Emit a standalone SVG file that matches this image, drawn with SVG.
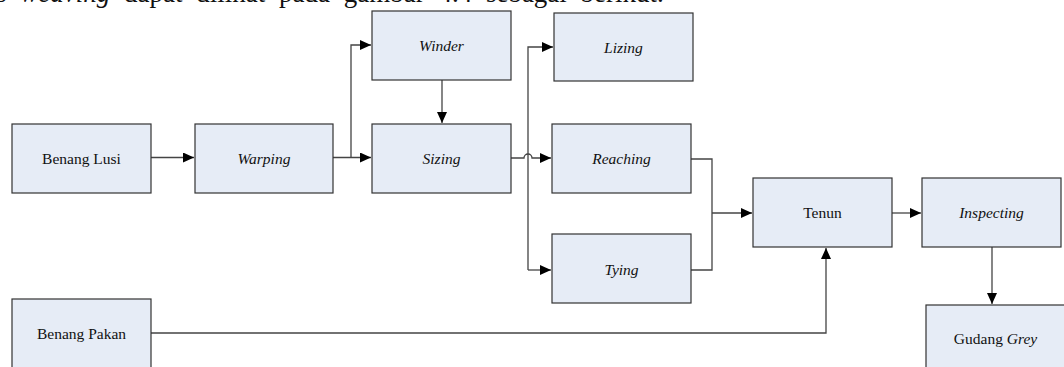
<svg xmlns="http://www.w3.org/2000/svg" width="1064" height="367" viewBox="0 0 1064 367">
<style>
.box{fill:#e6ecf6;stroke:#333;stroke-width:1.2}
.t{font-family:"Liberation Serif","Times New Roman",serif;font-size:15.5px;fill:#111;text-anchor:middle}
.i{font-style:italic}
.c{fill:none;stroke:#444;stroke-width:1.3}
.hdr{font-family:"Liberation Serif","Times New Roman",serif;font-size:27px;fill:#111;word-spacing:7px}
</style>
<defs>
<marker id="a" markerUnits="userSpaceOnUse" markerWidth="12" markerHeight="10" refX="11" refY="5" orient="auto">
<path d="M0,0 L11,5 L0,10 Z" fill="#000"/>
</marker>
</defs>
<text class="hdr" x="-4" y="1.5">s <tspan font-style="italic">weaving</tspan> dapat dilihat pada gambar 4.4 sebagai berikut.</text>
<g id="connectors">
<path class="c" d="M151,157.5 H194" marker-end="url(#a)"/>
<path class="c" d="M333,157.5 H371" marker-end="url(#a)"/>
<path class="c" d="M351,157.5 V45 H371" marker-end="url(#a)"/>
<path class="c" d="M442,80 V123" marker-end="url(#a)"/>
<path class="c" d="M511,158 H524 A4,4 0 0 1 532,158 H551" marker-end="url(#a)"/>
<path class="c" d="M528,270 V47 H553" marker-end="url(#a)"/>
<path class="c" d="M528,270 H551" marker-end="url(#a)"/>
<path class="c" d="M691,159 H712 V270 H691"/>
<path class="c" d="M712,213 H752" marker-end="url(#a)"/>
<path class="c" d="M892,213 H921" marker-end="url(#a)"/>
<path class="c" d="M992,247 V304" marker-end="url(#a)"/>
<path class="c" d="M151,333 H826 V248" marker-end="url(#a)"/>
</g>
<g id="benang-lusi"><rect class="box" x="12" y="124" width="139" height="69"/><text class="t" x="81.5" y="164">Benang Lusi</text></g>
<g id="warping"><rect class="box" x="195" y="124" width="138" height="69"/><text class="t i" x="264" y="164">Warping</text></g>
<g id="winder"><rect class="box" x="372" y="11" width="139" height="69"/><text class="t i" x="441.5" y="51">Winder</text></g>
<g id="sizing"><rect class="box" x="372" y="124" width="139" height="69"/><text class="t i" x="441.5" y="164">Sizing</text></g>
<g id="lizing"><rect class="box" x="554" y="13" width="139" height="68"/><text class="t i" x="623.5" y="53">Lizing</text></g>
<g id="reaching"><rect class="box" x="552" y="124" width="139" height="69"/><text class="t i" x="621.5" y="164">Reaching</text></g>
<g id="tying"><rect class="box" x="552" y="234" width="139" height="69"/><text class="t i" x="621.5" y="275">Tying</text></g>
<g id="tenun"><rect class="box" x="753" y="178" width="139" height="69"/><text class="t" x="822.5" y="218">Tenun</text></g>
<g id="inspecting"><rect class="box" x="922" y="178" width="139" height="69"/><text class="t i" x="991.5" y="218">Inspecting</text></g>
<g id="gudang-grey"><rect class="box" x="926" y="305" width="139" height="69"/><text class="t" x="995.5" y="344">Gudang <tspan class="i">Grey</tspan></text></g>
<g id="benang-pakan"><rect class="box" x="12" y="299" width="139" height="69"/><text class="t" x="81.5" y="339">Benang Pakan</text></g>
</svg>
